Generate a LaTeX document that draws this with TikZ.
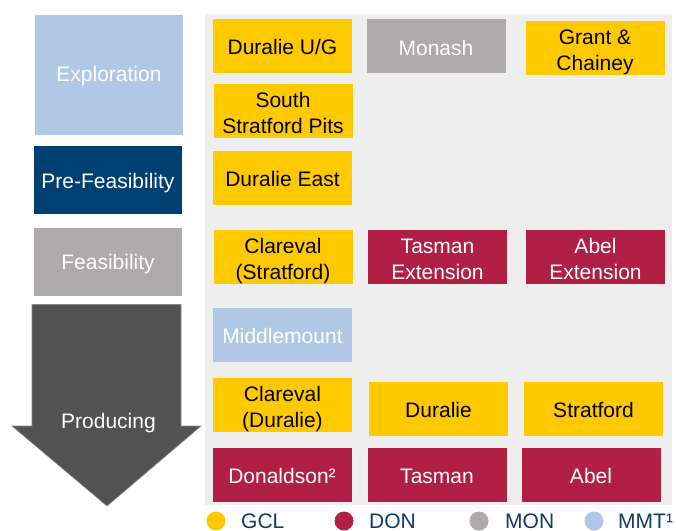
\documentclass[tikz,border=0pt]{standalone}
\usepackage{fontspec}
\setmainfont{Liberation Sans}
\definecolor{gclyellow}{HTML}{FFC900}
\definecolor{doncrimson}{HTML}{B21F45}
\definecolor{mongray}{HTML}{AFAAAB}
\definecolor{mmtblue}{HTML}{B0C7E5}
\definecolor{stagenavy}{HTML}{003F72}
\definecolor{arrowgray}{HTML}{525252}
\definecolor{arrowedge}{HTML}{8A8A8A}
\definecolor{panelgray}{HTML}{EEEEEE}
\definecolor{legendnavy}{HTML}{13386B}
% box text: lines stacked with fixed struts, lowered by #1 inside the node
\newcommand{\lbl}[2][3.6pt]{\raisebox{-#1}[\height][\depth]{\begin{tabular}[t]{@{}c@{}}#2\end{tabular}}}
\tikzset{
  txt/.style={font=\fontsize{21}{26}\selectfont, inner sep=0pt},
  proj/.style={txt, minimum width=139pt, minimum height=54pt},
  gcl/.style={proj, fill=gclyellow, text=black},
  don/.style={proj, fill=doncrimson, text=white},
  mon/.style={proj, fill=mongray, text=white},
  mmt/.style={proj, fill=mmtblue, text=white},
  stagebox/.style={txt, text=white, minimum width=148pt},
  legdot/.style={circle, inner sep=0pt, minimum size=19pt},
  legtxt/.style={font=\fontsize{21}{26}\selectfont, text=legendnavy, inner sep=0pt, anchor=base west},
}
\begin{document}
\begin{tikzpicture}[x=1pt, y=-1pt]
\useasboundingbox (0,0) rectangle (676,530);

% background panel for the project grid
\fill[panelgray] (205,14) rectangle (672,505);

% development stages
\node[stagebox, fill=mmtblue, minimum height=119.7pt] (explo) at (109,74.9) {\lbl[0.9pt]{Exploration}};
\node[stagebox, fill=stagenavy, minimum height=67.7pt] (prefeas) at (108,179.9) {\lbl[3.6pt]{Pre-Feasibility}};
\node[stagebox, fill=mongray, minimum height=67.7pt] (feas) at (108,261.9) {\lbl[2.6pt]{Feasibility}};
\filldraw[fill=arrowgray, draw=arrowedge, line width=0.6pt]
  (32,304.5) -- (181,304.5) -- (181,426) -- (201,426)
  -- (107,506) -- (12,426) -- (32,426) -- cycle;
\node[txt, text=white] (prod) at (108.5,420.5) {\lbl[2.3pt]{Producing}};

% exploration projects
\node[gcl] (duralieug) at (282.5,45.9) {\lbl{Duralie U/G}};
\node[mon] (monash) at (436,46.3) {\lbl{Monash}};
\node[gcl] (grant) at (595,48.3) {\lbl[4.1pt]{Grant \&\\Chainey}};
\node[gcl] (southstrat) at (283,110.9) {\lbl[4.1pt]{South\\Stratford Pits}};

% pre-feasibility
\node[gcl] (duralieeast) at (282.5,177.9) {\lbl{Duralie East}};

% feasibility
\node[gcl] (clarevals) at (283,256.9) {\lbl[4.1pt]{Clareval\\(Stratford)}};
\node[don] (tasmanext) at (437.5,256.9) {\lbl[4.1pt]{Tasman\\Extension}};
\node[don] (abelext) at (595.5,256.9) {\lbl[4.1pt]{Abel\\Extension}};

% producing
\node[mmt] (middlemount) at (282.5,334.9) {\lbl{Middlemount}};
\node[gcl] (clarevald) at (282.5,404.9) {\lbl[4.1pt]{Clareval\\(Duralie)}};
\node[gcl] (duralie) at (438.5,408.9) {\lbl{Duralie}};
\node[gcl] (stratford) at (593.5,408.9) {\lbl{Stratford}};
\node[don] (donaldson) at (282,474.9) {\lbl{Donaldson²}};
\node[don] (tasman) at (437,474.9) {\lbl{Tasman}};
\node[don] (abel) at (591,474.9) {\lbl{Abel}};

% legend
\node[legdot, fill=gclyellow] (dgcl) at (216,521) {};
\node[legtxt] (lgcl) at (241,528.5) {GCL};
\node[legdot, fill=doncrimson] (ddon) at (344,521) {};
\node[legtxt] (ldon) at (369,528.5) {DON};
\node[legdot, fill=mongray] (dmon) at (479,521) {};
\node[legtxt] (lmon) at (505,528.5) {MON};
\node[legdot, fill=mmtblue] (dmmt) at (594,521) {};
\node[legtxt] (lmmt) at (618,528.5) {MMT¹};
\end{tikzpicture}
\end{document}
